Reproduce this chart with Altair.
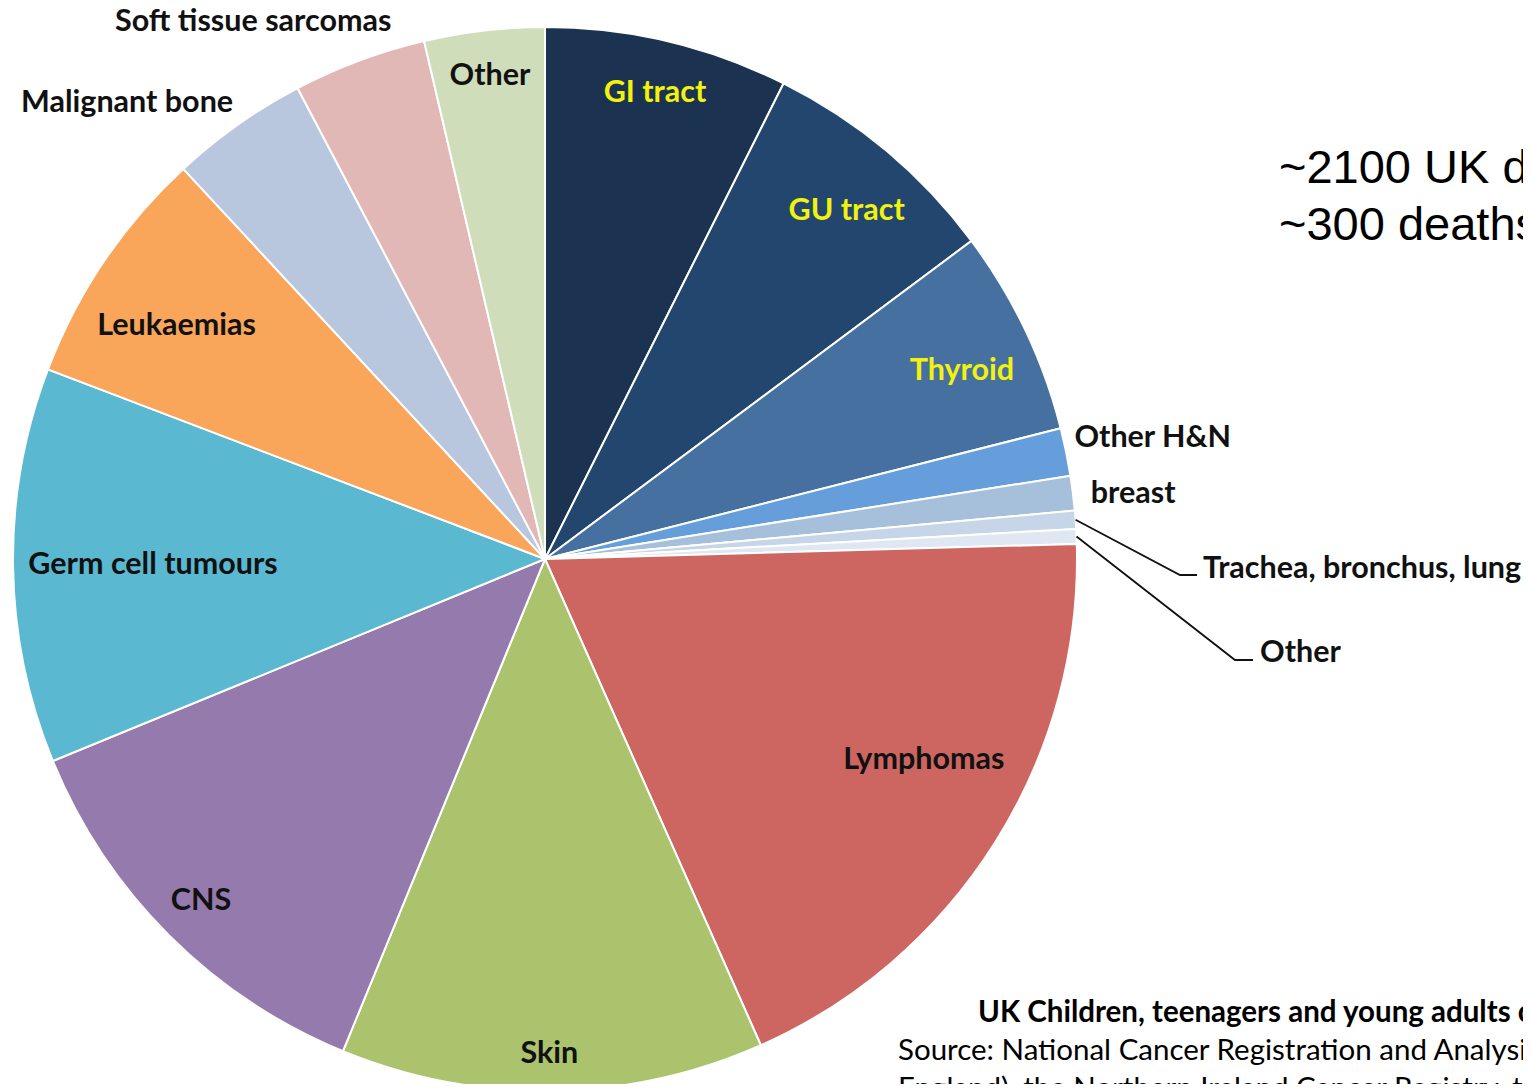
import math
import altair as alt
import numpy as np
import pandas as pd

# ---------------- data ----------------
categories = ["GI tract", "GU tract", "Thyroid", "Other H&N", "breast",
              "Trachea, bronchus, lung", "Other", "Lymphomas", "Skin", "CNS",
              "Germ cell tumours", "Leukaemias", "Malignant bone",
              "Soft tissue sarcomas", "Other"]
shares = [7.4, 7.4, 6.25, 1.45, 1.05, 0.55, 0.45, 18.8, 12.85, 12.6,
          12.0, 7.3, 4.2, 4.05, 3.65]
colors = ["#1b3350", "#22466e", "#46709f", "#669ddb", "#a6bfdb", "#c6d5e8",
          "#dee7f2", "#cd6660", "#abc36c", "#957aae", "#5bb8d1", "#f9a55a",
          "#b8c6de", "#e2b8b7", "#d0ddbb"]
label_colors = ["#f2f20f", "#f2f20f", "#f2f20f"] + ["#111111"] * 12

note_lines = ["~2100 UK diagnoses per year", "~300 deaths per year"]
caption_title = "UK Children, teenagers and young adults cancer incidence"
caption_lines = ["Source: National Cancer Registration and Analysis Service (Public Health",
                 "England), the Northern Ireland Cancer Registry, the Scottish Cancer Registry"]

# ---------------- layout ----------------
W, H = 1515, 1076
CX, CY, R = 537, 551, 532
label_radius = [481, 462, 458, 620, 592, 658, 721, 428, 493, 484, 392, 437, 620, 613, 488]
label_shift_deg = [-0.1, 0.8, 1.0, 0.2, 0.6, 4.9, 9.8, -4.5, 0.3, 0.3, 0.1, -1.5, -7.1, -8.0, 0.1]
label_align = ["center"] * 5 + ["left", "left"] + ["center"] * 8
leader_slices = [5, 6]
leader_bends = [[(1172, 567), (1189, 567)], [(1227, 652), (1245, 652)]]

df = pd.DataFrame({
    "idx": list(range(len(categories))),
    "cat": categories,
    "share": shares,
    "color": colors,
    "tcolor": label_colors,
    "lr": label_radius,
    "align": label_align,
})
cum = df["share"].cumsum()
mid_deg = (cum - df["share"] / 2) / df["share"].sum() * 360.0
df["lt"] = np.radians(mid_deg + np.array(label_shift_deg))

rows = []
for g, (i, bends) in enumerate(zip(leader_slices, leader_bends)):
    a = math.radians(mid_deg[i])
    rows.append({"grp": g, "step": 0, "x": CX + R * math.sin(a), "y": CY - R * math.cos(a)})
    for s, (bx, by) in enumerate(bends, start=1):
        rows.append({"grp": g, "step": s, "x": bx, "y": by})
ldf = pd.DataFrame(rows)

base = alt.Chart(df)

pie = base.mark_arc(radius=R, stroke="white", strokeWidth=2).encode(
    theta=alt.Theta("share:Q", stack=True),
    order=alt.Order("idx:Q"),
    color=alt.Color("color:N", scale=None),
    x=alt.value(CX),
    y=alt.value(CY),
)

label_font = dict(font="Lato", fontWeight="bold", fontSize=30.5, baseline="middle", dy=2)

labels_c = base.transform_filter("datum.align == 'center'").mark_text(
    align="center", **label_font).encode(
    theta=alt.Theta("lt:Q", scale=None, stack=False),
    radius=alt.Radius("lr:Q", scale=None),
    text="cat:N",
    color=alt.Color("tcolor:N", scale=None),
    x=alt.value(CX),
    y=alt.value(CY),
)

labels_l = base.transform_filter("datum.align == 'left'").mark_text(
    align="left", **label_font).encode(
    theta=alt.Theta("lt:Q", scale=None, stack=False),
    radius=alt.Radius("lr:Q", scale=None),
    text="cat:N",
    color=alt.Color("tcolor:N", scale=None),
    x=alt.value(CX),
    y=alt.value(CY),
)

leaders = alt.Chart(ldf).mark_line(color="#111111", strokeWidth=1.8).encode(
    x=alt.X("x:Q", scale=None),
    y=alt.Y("y:Q", scale=None),
    detail="grp:N",
    order="step:Q",
)

note = alt.Chart(pd.DataFrame({"t": ["\n".join(note_lines)]})).mark_text(
    font="Liberation Sans", fontSize=47, align="left", baseline="alphabetic",
    lineBreak="\n", lineHeight=57, color="#000000").encode(
    text="t:N", x=alt.value(1271), y=alt.value(175))

cap1 = alt.Chart(pd.DataFrame({"t": [caption_title]})).mark_text(
    font="Lato", fontWeight="bold", fontSize=29.5, align="left", baseline="alphabetic",
    color="#000000").encode(text="t:N", x=alt.value(970), y=alt.value(1014))

cap2 = alt.Chart(pd.DataFrame({"t": ["\n".join(caption_lines)]})).mark_text(
    font="Lato", fontSize=29.5, align="left", baseline="alphabetic",
    lineBreak="\n", lineHeight=38, color="#000000").encode(
    text="t:N", x=alt.value(890), y=alt.value(1052))

chart = alt.layer(pie, leaders, labels_c, labels_l, note, cap1, cap2).properties(
    width=W, height=H, padding=0, background="white",
    autosize=alt.AutoSizeParams(type="none"),
).configure_view(stroke=None)

chart.save("out.html", embed_options={"renderer": "svg", "actions": False})
